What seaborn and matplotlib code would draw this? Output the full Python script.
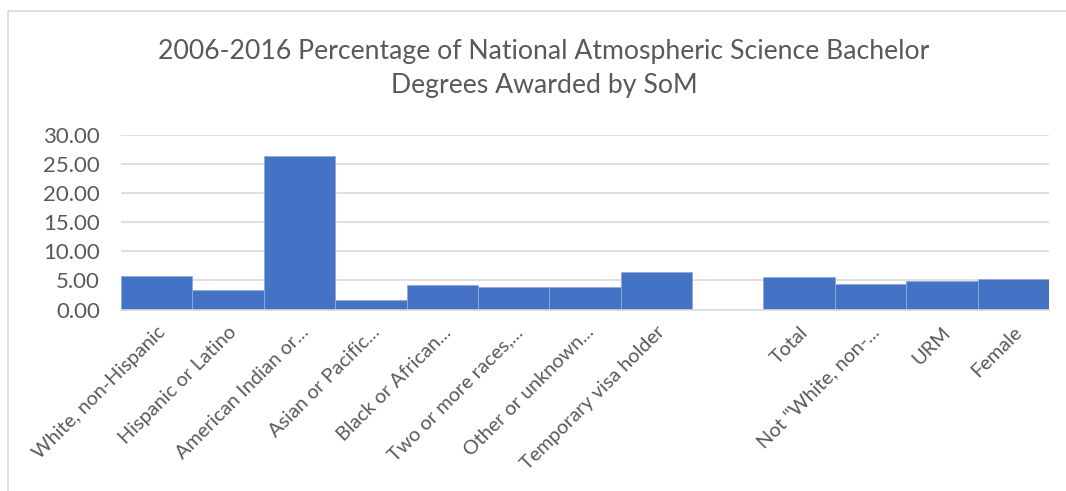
import pandas as pd
import numpy as np
import seaborn as sns
import matplotlib.pyplot as plt
from matplotlib.patches import Rectangle

categories = ['White, non-Hispanic', 'Hispanic or Latino', 'American Indian or...',
              'Asian or Pacific...', 'Black or African...', 'Two or more races,...',
              'Other or unknown...', 'Temporary visa holder', '',
              'Total', 'Not "White, non-...', 'URM', 'Female']
values = [5.82, 3.30, 26.40, 1.66, 4.16, 3.82, 3.82, 6.45, np.nan,
          5.60, 4.40, 4.85, 5.25]

df = pd.DataFrame({'group': categories, 'pct': values})

sns.set_theme(style='white')
plt.rcParams['font.family'] = ['Lato', 'DejaVu Sans']

gray = '#595959'
fig = plt.figure(figsize=(10.66, 4.91), dpi=100)
ax = fig.add_axes([121/1066, 1-309.5/491, (1049-121)/1066, (309.5-135)/491])

sns.barplot(data=df.dropna(), x='group', y='pct', order=categories,
            color='#4472C4', saturation=1, width=1.0,
            edgecolor='#8FAADC', linewidth=0.6, ax=ax)

ax.set_ylim(0, 30)
ax.set_xlim(-0.5, len(categories) - 0.5)
ax.set_yticks(np.arange(0, 31, 5))
ax.set_yticklabels(['%.2f' % v for v in np.arange(0, 31, 5)], fontsize=16, color=gray)
ax.yaxis.grid(True, color='#d9d9d9', lw=1.2)
ax.set_axisbelow(True)
for s in ['top', 'right', 'left']:
    ax.spines[s].set_visible(False)
ax.spines['bottom'].set_color('#d9d9d9')
ax.spines['bottom'].set_linewidth(1.2)
ax.tick_params(axis='y', length=0, pad=15)
ax.set_xlabel('')
ax.set_ylabel('')
ax.set_xticks(range(len(categories)))
ax.set_xticklabels(categories, rotation=45, ha='right', va='top',
                   rotation_mode='anchor', fontsize=14.3, color=gray)
ax.tick_params(axis='x', length=0, pad=10)

fig.text(544/1066, 1-52/491, '2006-2016 Percentage of National Atmospheric Science Bachelor',
         ha='center', va='center', fontsize=19.2, color=gray)
fig.text(544/1066, 1-86/491, 'Degrees Awarded by SoM',
         ha='center', va='center', fontsize=19.2, color=gray)

# chart area border
fig.patches.append(Rectangle((8/1066, -0.1), 1.2, 1.1 - 10.5/491, transform=fig.transFigure,
                             fill=False, edgecolor='#d9d9d9', lw=1.2))

fig.savefig('out.png', dpi=100)
